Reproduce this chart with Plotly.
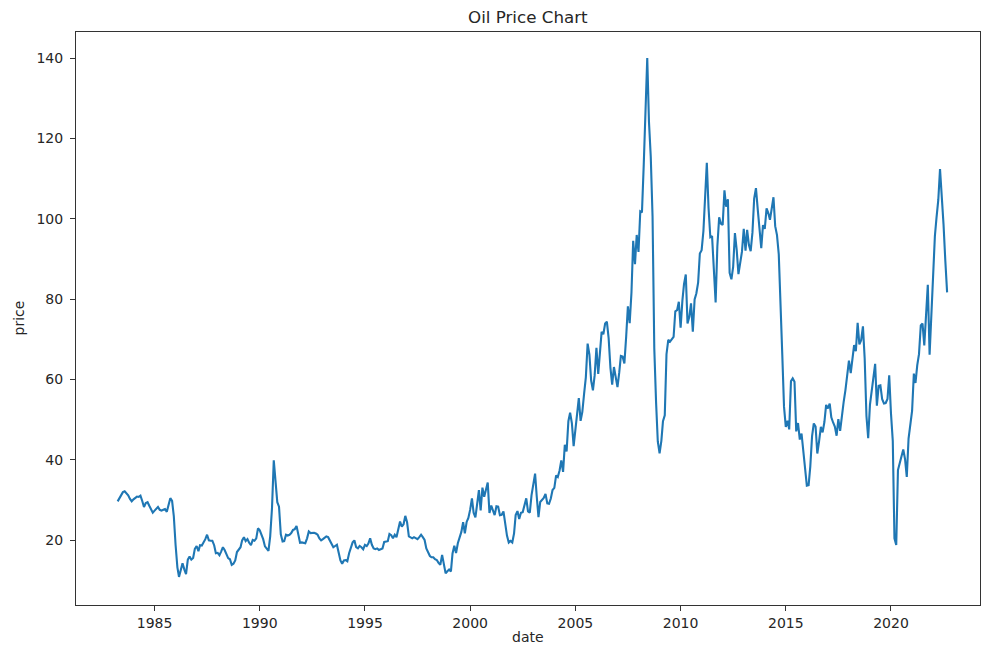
import pandas as pd
import plotly.graph_objects as go

# Monthly crude oil prices (USD/bbl), first value = April 1983
start_month = "1983-04-01"

prices_1983_1989 = [
    29.7, 30.5, 31.5, 32.0, 32.2, 31.8, 31.2, 30.3, 29.7,                      # 1983 Apr-Dec
    30.2, 30.7, 30.9, 30.8, 31.1, 29.8, 28.3, 29.3, 29.5, 28.6, 27.8, 26.9,    # 1984
    27.4, 28.0, 28.3, 27.6, 27.4, 27.6, 27.8, 27.1, 28.8, 30.5, 29.8, 26.0,    # 1985
    18.8, 13.3, 10.9, 13.0, 14.3, 12.8, 11.6, 15.2, 16.0, 15.2, 15.6, 17.9,    # 1986
    18.6, 17.3, 18.8, 18.7, 19.4, 20.3, 21.4, 20.0, 19.9, 19.9, 18.8, 16.8,    # 1987
    16.9, 16.3, 17.2, 18.3, 17.6, 16.6, 15.6, 15.3, 13.9, 14.2, 15.0, 17.1,    # 1988
    17.8, 18.3, 20.0, 20.8, 19.8, 20.3, 19.4, 18.8, 20.1, 19.9, 20.5, 23.0,    # 1989
]
prices_1990s = [
    22.5, 21.5, 20.3, 18.5, 17.8, 17.4, 21.0, 28.0, 39.9, 35.5, 29.5, 28.4,    # 1990
    21.5, 19.7, 19.8, 21.4, 21.2, 21.4, 21.8, 22.6, 22.8, 23.6, 21.4, 19.4,    # 1991
    19.5, 19.3, 19.3, 20.5, 22.2, 21.8, 21.9, 21.9, 21.7, 21.4, 20.5, 20.0,    # 1992
    20.3, 20.6, 21.0, 20.8, 20.0, 18.9, 18.3, 18.6, 18.9, 17.0, 15.0, 14.2,    # 1993
    15.0, 15.1, 14.8, 16.8, 18.5, 19.5, 20.0, 18.3, 18.0, 18.6, 18.3, 17.8,    # 1994
    18.9, 18.6, 19.2, 20.5, 18.9, 18.0, 17.8, 18.0, 17.6, 17.8, 18.0, 19.6,    # 1995
    19.7, 19.8, 21.6, 21.3, 20.5, 21.4, 20.8, 22.5, 24.7, 23.4, 24.0, 26.1,    # 1996
    24.5, 21.0, 20.8, 20.5, 20.8, 20.5, 20.3, 20.8, 21.4, 20.8, 20.1, 18.0,    # 1997
    17.0, 16.1, 15.8, 15.8, 15.3, 15.1, 14.4, 13.9, 16.4, 14.2, 11.8, 12.3,    # 1998
    12.75, 12.27, 16.76, 18.66, 16.84, 19.29, 20.53, 22.10, 24.51, 21.75, 24.59, 25.60,  # 1999
]
prices_2000s = [
    27.64, 30.43, 26.90, 25.74, 29.01, 32.50, 27.43, 33.12, 30.84, 32.70, 34.40, 26.80,  # 2000
    28.66, 27.39, 26.29, 28.46, 28.37, 26.25, 26.35, 27.20, 23.43, 21.18, 19.44, 19.84,  # 2001
    19.48, 21.74, 26.31, 27.29, 25.31, 26.86, 27.02, 28.98, 30.45, 27.22, 26.89, 31.20,  # 2002
    33.51, 36.60, 31.04, 25.80, 29.56, 30.19, 30.54, 31.57, 29.20, 29.11, 30.41, 32.52,  # 2003
    33.05, 36.16, 35.76, 37.38, 39.88, 37.05, 43.80, 42.12, 49.64, 51.76, 49.13, 43.45,  # 2004
    48.20, 51.75, 55.40, 49.72, 51.97, 56.50, 60.57, 68.94, 66.24, 59.76, 57.32, 61.04,  # 2005
    67.92, 61.41, 66.63, 71.88, 71.29, 73.93, 74.40, 70.26, 62.91, 58.73, 63.13, 61.05,  # 2006
    58.14, 61.79, 65.87, 65.71, 64.01, 70.68, 78.21, 74.04, 81.66, 94.53, 88.71, 95.98,  # 2007
    91.75, 101.84, 101.58, 113.46, 127.35, 140.00, 124.08, 115.46, 100.64, 67.81, 54.43, 44.60,  # 2008
    41.68, 44.76, 49.66, 51.12, 66.31, 69.89, 69.45, 69.96, 70.61, 77.00, 77.28, 79.36,  # 2009
]
prices_2010s = [
    72.89, 79.66, 83.76, 86.15, 73.97, 75.63, 78.95, 71.92, 79.97, 81.43, 84.11, 91.38,  # 2010
    92.19, 96.97, 106.72, 113.93, 102.70, 95.42, 95.70, 88.81, 79.20, 93.19, 100.36, 98.83,  # 2011
    98.48, 107.07, 103.02, 104.87, 86.53, 84.96, 88.06, 96.47, 92.19, 86.24, 88.91, 91.82,  # 2012
    97.49, 92.05, 97.23, 93.46, 91.97, 96.56, 105.03, 107.65, 102.33, 96.38, 92.72, 98.42,  # 2013
    97.49, 102.59, 101.58, 99.74, 102.71, 105.37, 98.17, 95.96, 91.16, 80.54, 66.15, 53.27,  # 2014
    48.24, 49.76, 47.60, 59.63, 60.30, 59.47, 47.12, 49.20, 45.09, 46.59, 41.65, 37.04,  # 2015
    33.62, 33.75, 38.34, 45.92, 49.10, 48.33, 41.60, 44.70, 48.24, 46.86, 49.44, 53.72,  # 2016
    52.81, 54.01, 50.60, 49.33, 48.32, 46.04, 50.17, 47.23, 51.67, 54.38, 57.40, 60.42,  # 2017
    64.73, 61.64, 64.94, 68.57, 67.04, 74.15, 68.76, 69.80, 73.25, 65.31, 50.93, 45.41,  # 2018
    53.79, 57.22, 60.14, 63.91, 53.50, 58.47, 58.58, 55.10, 54.07, 54.18, 55.17, 61.06,  # 2019
]
prices_2020s = [
    51.56, 44.76, 20.48, 18.84, 37.5, 39.27, 40.27, 42.61, 40.22, 35.79, 45.34, 48.52,  # 2020
    52.20, 61.50, 59.16, 63.58, 66.32, 73.47, 73.95, 68.50, 75.03, 83.57, 66.18, 75.21,  # 2021
    88.15, 95.72, 100.28, 104.69, 112.4, 105.76, 98.62, 89.55, 81.7,                     # 2022 Jan-Sep
]

x_tick_years = [1985, 1990, 1995, 2000, 2005, 2010, 2015, 2020]
y_tick_values = [20, 40, 60, 80, 100, 120, 140]

prices = prices_1983_1989 + prices_1990s + prices_2000s + prices_2010s + prices_2020s
dates = pd.date_range(start_month, periods=len(prices), freq="MS")

FONT = "DejaVu Sans"
INK = "#262626"

fig = go.Figure(
    go.Scatter(
        x=dates,
        y=prices,
        mode="lines",
        line=dict(color="#1f77b4", width=2.1),
        hoverinfo="skip",
    )
)

axis_common = dict(
    showline=True,
    mirror=True,
    linecolor="#333333",
    linewidth=1.1,
    ticks="outside",
    ticklen=5,
    tickwidth=1.1,
    tickcolor="#333333",
    showgrid=False,
    zeroline=False,
    tickfont=dict(family=FONT, size=14, color=INK),
)

fig.update_layout(
    width=981,
    height=646,
    margin=dict(l=76, r=1, t=32, b=41),
    paper_bgcolor="white",
    plot_bgcolor="white",
    showlegend=False,
    xaxis=dict(
        type="date",
        range=["1981-04-08", "2024-03-25"],
        tickvals=[f"{y}-01-01" for y in x_tick_years],
        ticktext=[str(y) for y in x_tick_years],
        **axis_common,
    ),
    yaxis=dict(
        range=[3.92, 146.48],
        tickvals=y_tick_values,
        ticktext=[str(v) for v in y_tick_values],
        ticklabelstandoff=4,
        **axis_common,
    ),
    annotations=[
        dict(text="Oil Price Chart", xref="paper", yref="paper", x=0.5, y=1,
             xanchor="center", yanchor="middle", yshift=15, showarrow=False,
             font=dict(family=FONT, size=16.7, color=INK)),
        dict(text="date", xref="paper", yref="paper", x=0.5, y=0,
             xanchor="center", yanchor="middle", yshift=-32, showarrow=False,
             font=dict(family=FONT, size=14, color=INK)),
        dict(text="price", xref="paper", yref="paper", x=0, y=0.5,
             xanchor="center", yanchor="middle", xshift=-58, textangle=-90,
             showarrow=False, font=dict(family=FONT, size=14, color=INK)),
    ],
)

fig.write_html(
    "out.html",
    config={"displayModeBar": False},
    post_script="document.body.style.margin='0';document.body.style.padding='0';"
                "document.body.style.overflow='hidden';",
)
